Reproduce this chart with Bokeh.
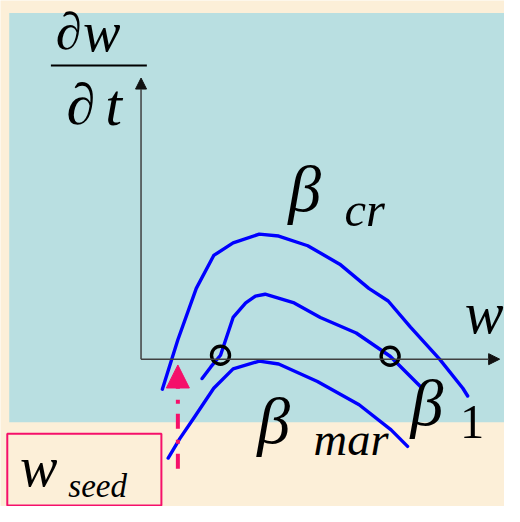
from bokeh.plotting import figure
from bokeh.models import Range1d, Arrow, NormalHead
from bokeh.core.properties import value
from bokeh.embed import file_html
from bokeh.resources import INLINE

# ---- schematic data (w on x, dw/dt on y) ----
beta_cr_w = [2.2, 3.8, 5.7, 7.5, 9.5, 12.2, 14.2, 17.2, 20.5, 23.5, 25.5, 27.8, 30.8, 33.2, 33.7]
beta_cr_rate = [-3.1, 2.0, 7.3, 10.7, 12.0, 12.9, 12.7, 11.7, 9.8, 7.3, 6.0, 3.3, 0.0, -3.0, -3.8]

beta_1_w = [6.3, 7.2, 8.2, 9.5, 10.8, 11.8, 12.8, 15.8, 18.5, 22.2, 25.7, 28.8]
beta_1_rate = [-2.0, -0.8, 0.4, 4.3, 5.8, 6.5, 6.7, 5.8, 4.3, 2.7, 0.3, -2.8]

beta_mar_w = [2.8, 4.0, 5.5, 7.5, 9.5, 12.2, 14.2, 18.2, 22.5, 25.8, 27.5]
beta_mar_rate = [-10.2, -8.2, -6.0, -3.0, -1.0, -0.2, -0.5, -2.3, -4.7, -7.3, -9.0]

# equilibrium points (zero growth on beta_1)
eq_w = [8.2, 25.7]
eq_rate = [0.4, 0.3]

# seed size marker
w_seed = 3.8
seed_from, seed_to = -11.3, -0.6

# axis extents
w_axis_max = 37.0
rate_axis_max = 29.0

# panel / box extents
panel = dict(left=-13.6, right=37.5, bottom=-6.5, top=35.7)
seed_box = dict(left=-13.8, right=2.1, bottom=-15.1, top=-7.7)

# labels: text, left (ref px), baseline (ref px), size (ref px), style
labels = [
    ("\u2202", 57, 49, 54, "italic"),
    ("w", 85, 51, 58, "italic"),
    ("\u2202", 68, 127, 60, "italic"),
    ("t", 108, 127, 62, "italic"),
    ("\u03b2", 297, 216, 68, "italic"),
    ("cr", 355, 232, 50, "italic"),
    ("w", 479, 342, 60, "italic"),
    ("\u03b2", 423, 436, 68, "italic"),
    ("1", 474, 451, 50, "normal"),
    ("\u03b2", 265, 455, 68, "italic"),
    ("mar", 323, 468, 48, "italic"),
    ("w", 20, 500, 58, "italic"),
    ("seed", 70, 512, 34, "italic"),
]

BEIGE = "#FCEFD8"
PANEL = "#B9DFE1"
BLUE = "#0000FF"
PINK = "#F5106A"
FONT = value("Liberation Serif")

W, H = 504, 506
S = W / 520.0  # render scale vs. reference

p = figure(width=W, height=H,
           x_range=Range1d(-14.5, 37.5), y_range=Range1d(-15.2, 37.0),
           output_backend="svg", toolbar_location=None, min_border=0,
           x_axis_location=None, y_axis_location=None)
p.grid.visible = False
p.outline_line_color = None
p.background_fill_color = BEIGE
p.border_fill_color = BEIGE

p.quad(left=[panel["left"]], right=[panel["right"]], bottom=[panel["bottom"]],
       top=[panel["top"]], fill_color=PANEL, line_color=None)

p.quad(left=[seed_box["left"]], right=[seed_box["right"]], bottom=[seed_box["bottom"]],
       top=[seed_box["top"]], fill_color=None, line_color=PINK, line_width=2)

# axes
p.add_layout(Arrow(end=NormalHead(size=11, fill_color="#111111", line_color="#111111"),
                   x_start=0, y_start=0, x_end=0, y_end=rate_axis_max,
                   line_color="#404040", line_width=1.5))
p.add_layout(Arrow(end=NormalHead(size=11, fill_color="#111111", line_color="#111111"),
                   x_start=0, y_start=0, x_end=w_axis_max, y_end=0,
                   line_color="#404040", line_width=1.5))

for xs, ys in [(beta_cr_w, beta_cr_rate), (beta_1_w, beta_1_rate), (beta_mar_w, beta_mar_rate)]:
    p.line(xs, ys, line_color=BLUE, line_width=3.4, line_cap="round", line_join="round")

p.scatter(eq_w, eq_rate, marker="circle", size=18, fill_color=None,
          line_color="black", line_width=3.4)

# seed arrow
p.add_layout(Arrow(end=NormalHead(size=23, fill_color=PINK, line_color=PINK, line_width=1),
                   x_start=w_seed, y_start=seed_from, x_end=w_seed, y_end=seed_to,
                   line_color=PINK, line_width=4, line_dash="15 10 4 11"))

# fraction bar of dw/dt
p.line([-9.3, 0.6], [30.3, 30.3], line_color="black", line_width=2)

for t, xpx, bpx, size, style in labels:
    x = (xpx - 145) / 10.0
    y = (370 - (bpx - 0.32 * size)) / 10.0
    p.text(x=[x], y=[y], text=[t], text_font=FONT, text_font_style=style,
           text_font_size=f"{size * S:.1f}px", text_baseline="alphabetic",
           text_align="left", text_color="black")

open("out.html", "w").write(file_html(p, INLINE))
